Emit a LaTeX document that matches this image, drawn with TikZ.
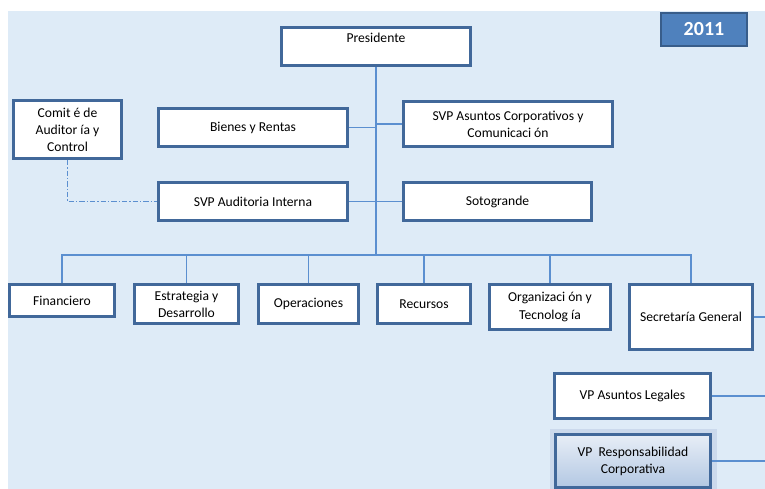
\documentclass[tikz,border=0pt]{standalone}
\usepackage{fontspec}
\setmainfont{Carlito}
\usepackage{tikz}
\usetikzlibrary{positioning}
\usetikzlibrary{calc}
\definecolor{paneblue}{HTML}{DEEBF7}
\definecolor{boxline}{HTML}{41689A}
\definecolor{linkblue}{HTML}{5B8FD0}
\definecolor{yearfill}{HTML}{4F81BD}
\definecolor{yearline}{HTML}{385D8A}
\definecolor{glowblue}{HTML}{CBD9EC}
\tikzstyle{unit}=[draw=boxline,line width=2.2pt,fill=white,align=center,inner sep=1pt,font=\fontsize{10.2}{12.8}\selectfont]
\tikzstyle{link}=[draw=linkblue,line width=0.9pt]
\tikzstyle{dotlink}=[link,dash pattern=on 4pt off 1.5pt on 1pt off 1.5pt]

\begin{document}
\begin{tikzpicture}[x=0.75pt,y=-0.75pt]

  \def\u{0.75pt};

  \useasboundingbox (0,0) rectangle (765,489);
  \fill[paneblue] (8,11) rectangle (765,489);

  \coordinate (bus) at (376,255);
  \coordinate (edge) at (765,0);

  \node[unit,minimum width=189*\u,minimum height=38*\u,text height=6.8pt,text depth=13.5pt] (pres) at (376,46.5) {Presidente};

  \foreach \x/\y/\w/\h/\name/\label in {67.5/129.5/108/58/comite/{Comit é de\\Auditor ía y\\Control},
        253/127.5/189/38/bienes/{Bienes y Rentas},
        508/124/209/45/asuntos/{SVP Asuntos Corporativos y\\Comunicaci ón},
        253/201.5/189/38/audit/{SVP Auditoria Interna},
        497.5/201.5/188/38/soto/{Sotogrande},
        62/300.5/105/32/fin/{Financiero},
        186.5/304/104/39/estr/{Estrategia y\\Desarrollo},
        308.5/304/100/39/oper/{Operaciones},
        424/304/93/39/recur/{Recursos},
        550/307/121/45/org/{Organizaci ón y\\Tecnolog ía},
        691/317/123/65/secr/{Secretaría General},
        632.5/396/156/45/legal/{VP Asuntos Legales}}
          \node[unit,minimum width=\w*\u,minimum height=\h*\u] (\name) at (\x,\y) {\label};

  \node[unit,minimum width=155*\u,minimum height=53*\u,top color=white!55!glowblue,bottom color=glowblue!80!yearfill,
        preaction={draw=glowblue,line width=9pt}] (resp) at (633,461) {VP\ \ Responsabilidad\\Corporativa};

  \node[fill=yearfill,draw=yearline,line width=1.5pt,minimum width=86*\u,minimum height=33*\u,
        text=white,font=\fontsize{15}{16}\selectfont\bfseries] (year) at (704,29.5) {2011};

  % trunk and bus
  \draw[link] (pres.south) -- (bus);
  \foreach \name in {fin,estr,oper,recur,org,secr}
         \draw[link] (\name.north) |- (bus);

  \foreach \name in {bienes,audit}
         \draw[link] (\name.east) -- (\name.east -| bus);
  \foreach \name in {asuntos,soto}
         \draw[link] (\name.west) -- (\name.west -| bus);

  \foreach \name in {secr,legal,resp}
         \draw[link] (\name.east) -- (\name.east -| edge);

  \draw[dotlink] (comite.south) |- (audit.west);

\end{tikzpicture}
\end{document}
